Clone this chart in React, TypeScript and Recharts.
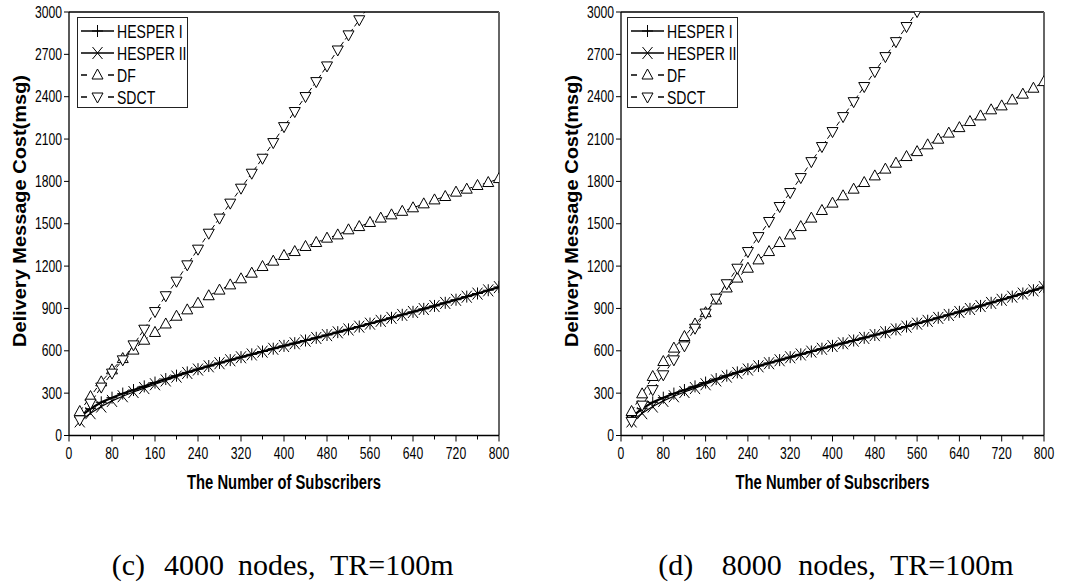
import { LineChart, Line, XAxis, YAxis, Legend, ReferenceLine, Label } from "recharts";

// x positions (number of subscribers), same for both panels
const subscribers = [
  20, 40, 60, 80, 100, 120, 140, 160, 180, 200, 220, 240, 260, 280, 300, 320, 340, 360, 380, 400,
  420, 440, 460, 480, 500, 520, 540, 560, 580, 600, 620, 640, 660, 680, 700, 720, 740, 760, 780, 800,
];

const xTicks = [0, 40, 80, 120, 160, 200, 240, 280, 320, 360, 400, 440, 480, 520, 560, 600, 640, 680, 720, 760, 800];
const yTicks = [0, 300, 600, 900, 1200, 1500, 1800, 2100, 2400, 2700, 3000];

// (c) 4000 nodes
const hesperOneC = [
  130, 190, 235, 268, 297, 322, 348, 375, 400, 424, 447, 470, 492, 514, 534, 555, 575, 595, 615, 635,
  654, 673, 692, 712, 732, 752, 772, 793, 813, 834, 855, 876, 897, 918, 940, 962, 984, 1006, 1029, 1052,
];
const hesperTwoC = [
  100, 158, 205, 245, 278, 308, 336, 363, 390, 417, 443, 467, 490, 512, 533, 554, 574, 594, 614, 634,
  653, 672, 691, 711, 731, 751, 771, 792, 812, 833, 854, 875, 896, 917, 939, 961, 983, 1005, 1028, 1051,
];
const dfC = [
  170, 276, 380, 465, 545, 605, 675, 730, 790, 845, 890, 937, 990, 1030, 1067, 1110, 1150, 1197, 1235, 1275,
  1303, 1339, 1367, 1398, 1421, 1457, 1480, 1509, 1540, 1563, 1588, 1613, 1641, 1669, 1693, 1724, 1745, 1771, 1792, 1820,
];
const sdctC = [
  111, 229, 343, 442, 536, 642, 753, 878, 990, 1093, 1209, 1320, 1433, 1540, 1646, 1752, 1858, 1964, 2075, 2188,
  2295, 2401, 2507, 2618, 2731, 2838, 2945, 3052,
];

// (d) 8000 nodes -- HESPER curves read the same as in (c)
const hesperOneD = hesperOneC;
const hesperTwoD = hesperTwoC;
const dfD = [
  170, 295, 418, 524, 619, 701, 790, 870, 960, 1045, 1115, 1185, 1244, 1303, 1367, 1421, 1480, 1540, 1594, 1646,
  1698, 1745, 1792, 1839, 1887, 1929, 1976, 2011, 2059, 2099, 2142, 2181, 2224, 2264, 2307, 2335, 2377, 2418, 2460, 2507,
];
const sdctD = [
  100, 215, 325, 430, 536, 635, 760, 867, 973, 1075, 1185, 1303, 1409, 1516, 1622, 1721, 1827, 1940, 2047, 2153,
  2259, 2365, 2472, 2578, 2684, 2790, 2897, 3003, 3110,
];

const series = [
  { key: "h1", name: "HESPER I", shape: "plus", width: 2.2, dashed: false },
  { key: "h2", name: "HESPER II", shape: "cross", width: 1.2, dashed: false },
  { key: "df", name: "DF", shape: "up", width: 1, dashed: true },
  { key: "sdct", name: "SDCT", shape: "down", width: 1, dashed: true },
];

const yTitle = "Delivery Message Cost(msg)";
const xTitle = "The Number of Subscribers";

const SANS = "'Liberation Sans', Arial, sans-serif";

function buildRows(h1: number[], h2: number[], df: number[], sdct: number[]) {
  return subscribers.map((x, i) => ({
    x,
    h1: h1[i] ?? null,
    h2: h2[i] ?? null,
    df: df[i] ?? null,
    sdct: sdct[i] ?? null,
  }));
}

function Marker({ shape, cx, cy }: { shape: string; cx: number; cy: number }) {
  if (shape === "plus") {
    return <path d={`M${cx - 5.5},${cy}H${cx + 5.5}M${cx},${cy - 6}V${cy + 6}`} stroke="#000" strokeWidth={1} fill="none" />;
  }
  if (shape === "cross") {
    return (
      <path
        d={`M${cx - 5},${cy - 6}L${cx + 5},${cy + 6}M${cx - 5},${cy + 6}L${cx + 5},${cy - 6}`}
        stroke="#000"
        strokeWidth={1}
        fill="none"
      />
    );
  }
  if (shape === "up") {
    return <path d={`M${cx},${cy - 6}L${cx + 5.5},${cy + 4}L${cx - 5.5},${cy + 4}Z`} stroke="#000" strokeWidth={1} fill="#fff" />;
  }
  return <path d={`M${cx},${cy + 6}L${cx + 5.5},${cy - 4}L${cx - 5.5},${cy - 4}Z`} stroke="#000" strokeWidth={1} fill="#fff" />;
}

const XTick = (props: any) => {
  const { x, y, payload } = props;
  const major = payload.value % 80 === 0;
  return (
    <g>
      <line x1={x} y1={y} x2={x} y2={y + (major ? 6 : 4)} stroke="#000" strokeWidth={1} />
      {major && (
        <text transform={`translate(${x},${y + 23.5}) scale(0.76,1)`} textAnchor="middle" fontSize={16} fontFamily={SANS} fill="#000">
          {payload.value}
        </text>
      )}
    </g>
  );
};

const YTick = (props: any) => {
  const { x, y, payload } = props;
  return (
    <g>
      <line x1={x - 5} y1={y} x2={x} y2={y} stroke="#000" strokeWidth={1} />
      <text transform={`translate(${x - 7},${y + 5.5}) scale(0.76,1)`} textAnchor="end" fontSize={16} fontFamily={SANS} fill="#000">
        {payload.value}
      </text>
    </g>
  );
};

const renderLegend = () => (
  <svg width={112} height={92} style={{ display: "block" }}>
    <rect x={0.5} y={0.5} width={110} height={90} fill="#fff" stroke="#222" strokeWidth={1} />
    {series.map((s, i) => {
      const cy = 14 + i * 22;
      return (
        <g key={s.key}>
          {s.dashed ? (
            <path d={`M4,${cy}H10M31,${cy}H37`} stroke="#000" strokeWidth={1.5} />
          ) : (
            <line x1={4} y1={cy} x2={37} y2={cy} stroke="#000" strokeWidth={1.5} />
          )}
          <Marker shape={s.shape} cx={20.5} cy={cy} />
          <text transform={`translate(40,${cy + 7}) scale(0.74,1)`} fontSize={19} fontFamily={SANS} fill="#000">
            {s.name}
          </text>
        </g>
      );
    })}
  </svg>
);

function Panel({ rows, width, rightMargin, legendLeft }: { rows: any[]; width: number; rightMargin: number; legendLeft: number }) {
  return (
    <LineChart width={width} height={500} data={rows} margin={{ top: 12, right: rightMargin, bottom: 24.5, left: 0 }}>
      <XAxis
        dataKey="x"
        type="number"
        domain={[0, 800]}
        ticks={xTicks}
        interval={0}
        allowDataOverflow
        height={40}
        tickSize={0}
        tickMargin={0}
        tickLine={false}
        tick={<XTick />}
        axisLine={{ stroke: "#000", strokeWidth: 1.3 }}
      >
        <Label
          content={(p: any) => {
            const vb = p.viewBox;
            return (
              <text
                x={vb.x + vb.width / 2}
                y={vb.y + 53.5}
                textAnchor="middle"
                fontSize={20}
                fontWeight="bold"
                fontFamily={SANS}
                textLength={194}
                lengthAdjust="spacingAndGlyphs"
                fill="#000"
              >
                {xTitle}
              </text>
            );
          }}
        />
      </XAxis>
      <YAxis
        type="number"
        domain={[0, 3000]}
        ticks={yTicks}
        interval={0}
        allowDataOverflow
        width={69}
        tickSize={0}
        tickMargin={0}
        tickLine={false}
        tick={<YTick />}
        axisLine={{ stroke: "#000", strokeWidth: 1.3 }}
      >
        <Label
          content={(p: any) => {
            const vb = p.viewBox;
            const cx = vb.x + 25.5;
            const cy = vb.y + 199;
            return (
              <text
                x={cx}
                y={cy}
                transform={`rotate(-90 ${cx} ${cy})`}
                textAnchor="middle"
                fontSize={18}
                fontWeight="bold"
                fontFamily={SANS}
                textLength={272}
                lengthAdjust="spacingAndGlyphs"
                fill="#000"
              >
                {yTitle}
              </text>
            );
          }}
        />
      </YAxis>
      <ReferenceLine y={3000} stroke="#000" strokeWidth={1.3} />
      <ReferenceLine x={800} stroke="#666" strokeWidth={2} />
      {series.map((s) => (
        <Line
          key={s.key}
          dataKey={s.key}
          name={s.name}
          type="linear"
          stroke="#000"
          strokeWidth={s.width}
          strokeDasharray={s.dashed ? "5 3" : undefined}
          isAnimationActive={false}
          activeDot={false}
          dot={(p: any) =>
            p.cy == null ? <g key={p.index} /> : <Marker key={p.index} shape={s.shape} cx={p.cx} cy={p.cy} />
          }
        />
      ))}
      <Legend
        layout="vertical"
        align="center"
        verticalAlign="middle"
        content={renderLegend}
        wrapperStyle={{ left: legendLeft, top: 17, width: 112, height: 92 }}
      />
    </LineChart>
  );
}

const rowsC = buildRows(hesperOneC, hesperTwoC, dfC, sdctC);
const rowsD = buildRows(hesperOneD, hesperTwoD, dfD, sdctD);

export default function App() {
  return (
    <div style={{ position: "absolute", left: 0, top: 0, width: 1070, height: 585, background: "#fff", overflow: "hidden" }}>
      <div style={{ position: "absolute", left: 0, top: 0 }}>
        <Panel rows={rowsC} width={520} rightMargin={21} legendLeft={77} />
      </div>
      <div style={{ position: "absolute", left: 552, top: 0 }}>
        <Panel rows={rowsD} width={510} rightMargin={18} legendLeft={75} />
      </div>
      <svg width={1070} height={585} style={{ position: "absolute", left: 0, top: 0, pointerEvents: "none" }}>
        <text fontSize={30} fontFamily="'Liberation Serif', 'Times New Roman', serif" fill="#000" y={575}>
          <tspan x={111.7}>(c)</tspan>
          <tspan x={164}>4000</tspan>
          <tspan x={238}>nodes,</tspan>
          <tspan x={330}>TR=100m</tspan>
        </text>
        <text fontSize={30} fontFamily="'Liberation Serif', 'Times New Roman', serif" fill="#000" y={575}>
          <tspan x={658.3}>(d)</tspan>
          <tspan x={721.7}>8000</tspan>
          <tspan x={798.3}>nodes,</tspan>
          <tspan x={890}>TR=100m</tspan>
        </text>
      </svg>
    </div>
  );
}
